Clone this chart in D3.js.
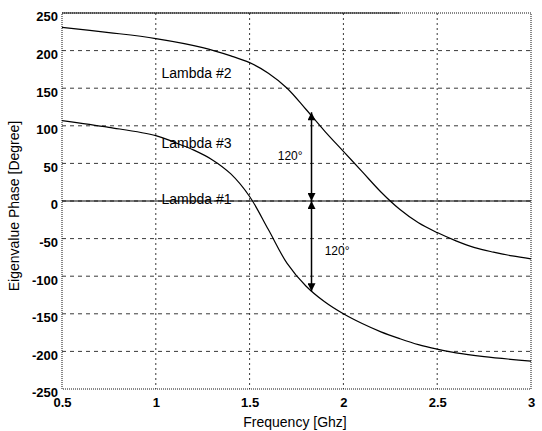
<!DOCTYPE html>
<html>
<head>
<meta charset="utf-8">
<script src="https://cdn.jsdelivr.net/npm/d3@7"></script>
<style>
  html, body { margin: 0; padding: 0; background: #fff; }
  svg { display: block; }
  text { font-family: "Liberation Sans", Arial, sans-serif; fill: #000; }
</style>
</head>
<body>
<svg id="chart" width="542" height="431"></svg>
<script>
// ---- data ----
const xTicks = [0.5, 1, 1.5, 2, 2.5, 3];
const xTickLabels = ["0.5", "1", "1.5", "2", "2.5", "3"];
const yTicks = [250, 200, 150, 100, 50, 0, -50, -100, -150, -200, -250];
const yTickLabels = ["250", "200", "150", "100", "50", "0", "-50", "-100", "-150", "-200", "-250"];

const freq2 = [0.5, 0.75, 1.0, 1.25, 1.4, 1.5, 1.6, 1.7, 1.8, 1.9, 2.0, 2.1, 2.2, 2.3, 2.4, 2.5, 2.6, 2.7, 2.8, 2.9, 3.0];
const lambda2 = [231, 224, 216, 204, 193, 184, 170, 150, 122, 93, 66, 39, 12, -11, -29, -42, -53, -62, -68, -73, -77];

const freq3 = [0.5, 0.75, 1.0, 1.1, 1.2, 1.3, 1.4, 1.5, 1.6, 1.7, 1.8, 1.9, 2.0, 2.1, 2.2, 2.3, 2.4, 2.5, 2.6, 2.75, 3.0];
const lambda3 = [107, 98, 87, 78, 68, 55, 36, 6, -38, -83, -113, -134, -150, -163, -174, -183, -191, -197, -202, -207, -213];

const freq1 = [0.5, 3.0];
const lambda1 = [0, 0];

const seriesLabels = ["Lambda #2", "Lambda #3", "Lambda #1"];
const seriesLabelX = [1.03, 1.03, 1.03];
const seriesLabelY = [164, 70, -4];

const arrowX = 1.83;
const arrowTop = 118;
const arrowBottom = -120;
const angleText = "120°";
const angleLabelX = [1.65, 1.9];
const angleLabelY = [54, -72];

// ---- layout ----
const W = 542, H = 431;
const margin = { left: 62, right: 11, top: 13, bottom: 42 };
const svg = d3.select("#chart");

const x = d3.scaleLinear().domain([0.5, 3]).range([margin.left, W - margin.right]);
const y = d3.scaleLinear().domain([-250, 250]).range([H - margin.bottom, margin.top]);

// grid
const g = svg.append("g");
g.selectAll("line.hgrid").data(yTicks.slice(1, -1)).enter().append("line")
  .attr("x1", x(0.5)).attr("x2", x(3))
  .attr("y1", d => y(d)).attr("y2", d => y(d))
  .attr("stroke", "#222").attr("stroke-width", 0.9)
  .attr("stroke-dasharray", "4,4");
g.selectAll("line.vgrid").data(xTicks.slice(1, -1)).enter().append("line")
  .attr("x1", d => x(d)).attr("x2", d => x(d))
  .attr("y1", y(250)).attr("y2", y(-250))
  .attr("stroke", "#222").attr("stroke-width", 0.9)
  .attr("stroke-dasharray", "2,3");

// frame
svg.append("rect")
  .attr("x", x(0.5)).attr("y", y(250))
  .attr("width", x(3) - x(0.5)).attr("height", y(-250) - y(250))
  .attr("fill", "none").attr("stroke", "#111").attr("stroke-width", 1)
  .attr("stroke-dasharray", "1,1");
svg.append("line")
  .attr("x1", x(0.5)).attr("x2", x(2.3))
  .attr("y1", y(250)).attr("y2", y(250))
  .attr("stroke", "#111").attr("stroke-width", 1.2);

// axes (labels only)
const xAxis = d3.axisBottom(x).tickValues(xTicks)
  .tickFormat((d, i) => xTickLabels[i]).tickSize(0).tickPadding(9);
const xg = svg.append("g").attr("transform", `translate(0,${y(-250)})`).call(xAxis);
xg.select(".domain").remove();
xg.selectAll("text").attr("font-size", 13).attr("font-weight", "bold")
  .attr("font-family", "Liberation Sans, Arial, sans-serif").attr("fill", "#000");

const yAxis = d3.axisLeft(y).tickValues(yTicks)
  .tickFormat((d, i) => yTickLabels[i]).tickSize(0).tickPadding(4);
const yg = svg.append("g").attr("transform", `translate(${x(0.5)},0)`).call(yAxis);
yg.select(".domain").remove();
yg.selectAll("text").attr("font-size", 13).attr("font-weight", "bold")
  .attr("dy", "0.6em")
  .attr("font-family", "Liberation Sans, Arial, sans-serif").attr("fill", "#000");

// curves
const line = d3.line().x(d => x(d[0])).y(d => y(d[1])).curve(d3.curveCatmullRom);
const series = [
  d3.zip(freq2, lambda2),
  d3.zip(freq3, lambda3),
  d3.zip(freq1, lambda1)
];
svg.selectAll("path.curve").data(series).enter().append("path")
  .attr("d", line).attr("fill", "none")
  .attr("stroke", "#000").attr("stroke-width", 1.2);

// series labels
svg.selectAll("text.slab").data(seriesLabels).enter().append("text")
  .attr("x", (d, i) => x(seriesLabelX[i]))
  .attr("y", (d, i) => y(seriesLabelY[i]))
  .attr("font-size", 14)
  .text(d => d);

// arrows
const defs = svg.append("defs");
defs.append("marker").attr("id", "ah")
  .attr("viewBox", "0 0 10 10").attr("refX", 10).attr("refY", 5)
  .attr("markerWidth", 9).attr("markerHeight", 8)
  .attr("markerUnits", "userSpaceOnUse")
  .attr("orient", "auto")
  .append("path").attr("d", "M0,0 L10,5 L0,10 Z").attr("fill", "#000");

const arrows = [[0, arrowTop], [0, arrowBottom]];
svg.selectAll("line.arrow").data(arrows).enter().append("line")
  .attr("x1", x(arrowX)).attr("x2", x(arrowX))
  .attr("y1", d => y(d[0])).attr("y2", d => y(d[1]))
  .attr("stroke", "#000").attr("stroke-width", 1.5)
  .attr("marker-start", "url(#ah)").attr("marker-end", "url(#ah)");

svg.selectAll("text.ang").data(angleLabelX).enter().append("text")
  .attr("x", d => x(d)).attr("y", (d, i) => y(angleLabelY[i]))
  .attr("font-size", 12)
  .text(angleText);

// axis titles
svg.append("text")
  .attr("x", 295).attr("y", 427)
  .attr("text-anchor", "middle").attr("font-size", 14)
  .text("Frequency [Ghz]");
svg.append("text")
  .attr("transform", `translate(19,${206}) rotate(-90)`)
  .attr("text-anchor", "middle").attr("font-size", 14)
  .text("Eigenvalue Phase [Degree]");
</script>
</body>
</html>
